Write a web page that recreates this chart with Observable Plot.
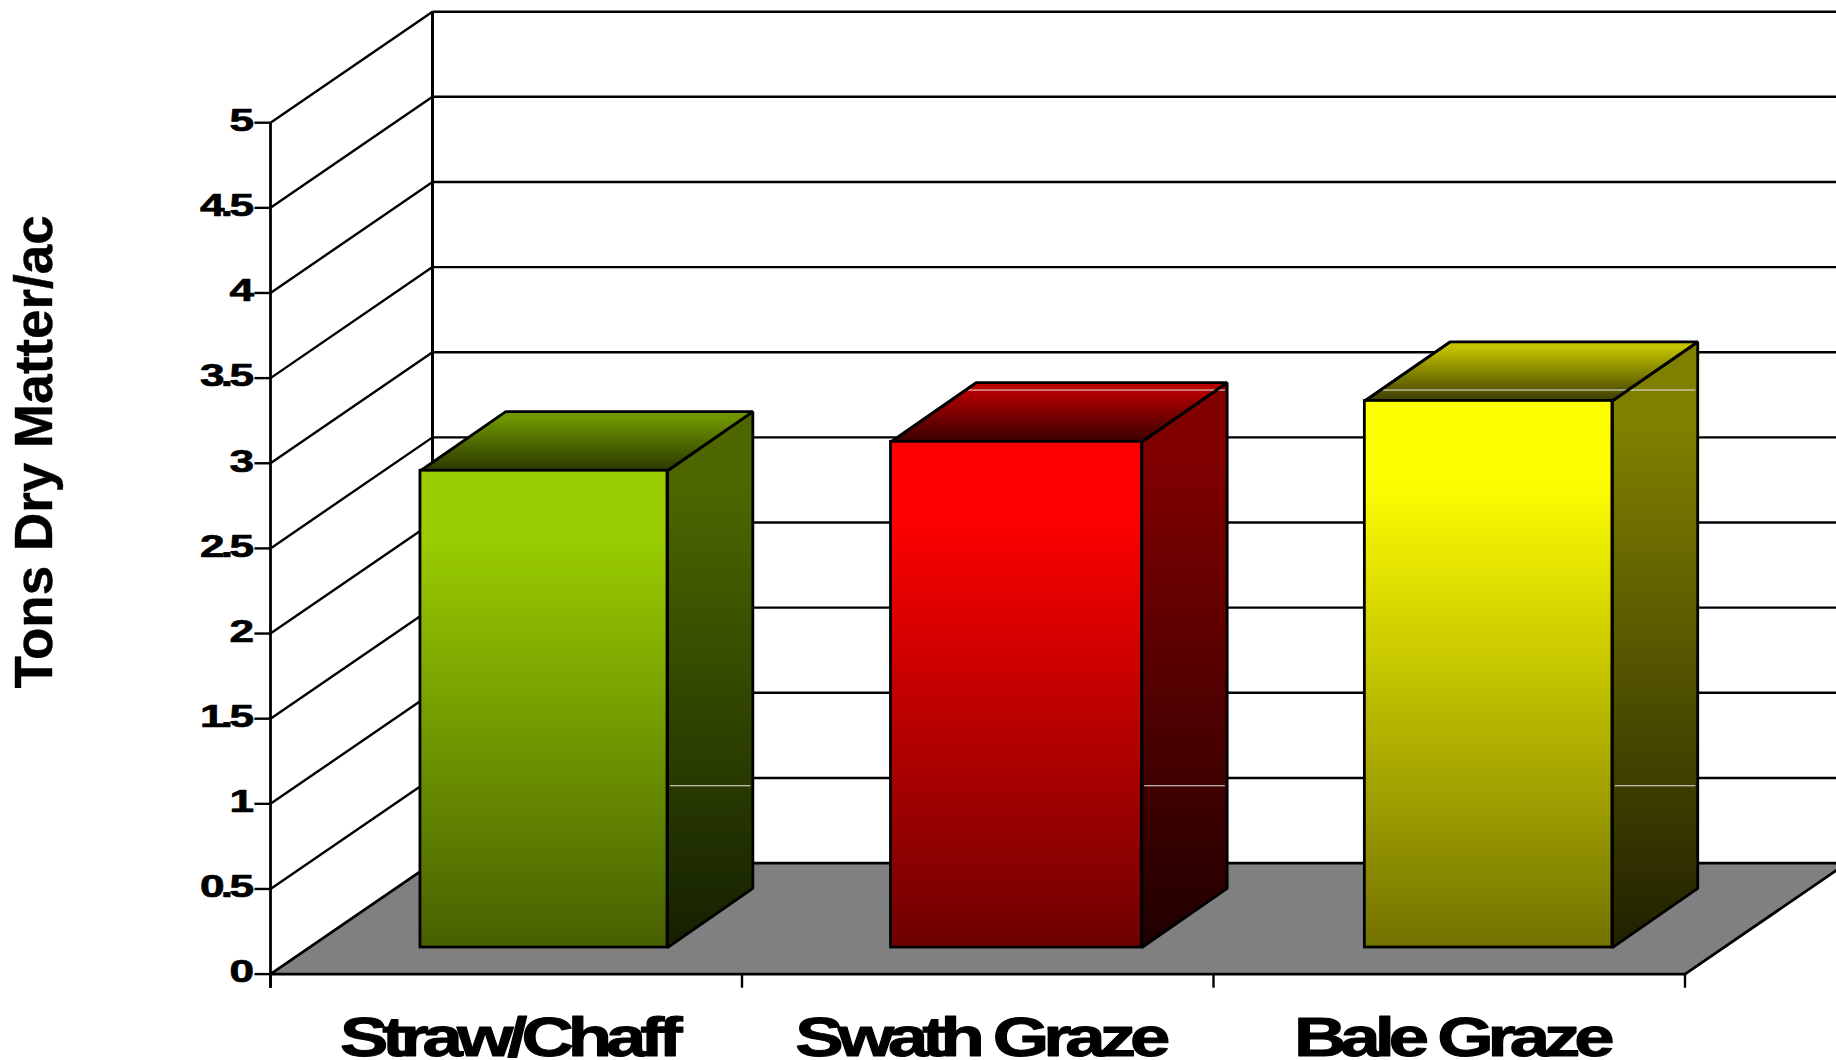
<!DOCTYPE html>
<html>
<head>
<meta charset="utf-8">
<script src="https://cdn.jsdelivr.net/npm/d3@7"></script>
<script src="https://cdn.jsdelivr.net/npm/@observablehq/plot@0.6"></script>
<style>
html,body{margin:0;padding:0;background:#fff;overflow:hidden}
svg{display:block}
g.cat text{letter-spacing:-4.6px}
g.num text{letter-spacing:-2.6px}
</style>
</head>
<body>
<div id="chart"></div>
<script>
const categories = ["Straw/Chaff", "Swath Graze", "Bale Graze"];
const values = [2.80, 2.97, 3.21];
const yTicks = [0, 0.5, 1, 1.5, 2, 2.5, 3, 3.5, 4, 4.5, 5];
const yTitle = "Tons Dry Matter/ac";
const faceColors = [
  {front: ["#99cc00", "#476000"], side: ["#4d6600", "#142000"], top: ["#6f9600", "#2a3800"]},
  {front: ["#ff0000", "#6e0000"], side: ["#800000", "#200000"], top: ["#bb0000", "#380000"]},
  {front: ["#ffff00", "#727200"], side: ["#808000", "#202000"], top: ["#c2c200", "#3c3c00"]}
];
const plateau = {front: 0.14, side: 0.14, top: 0.1};

// projection of the pseudo-3D box, in scale units
const wallX = 0.3436, wallY = 0.652;     // depth of the chart floor
const barX = 0.181, barY = 0.347;        // depth of a bar
const barStarts = [0.318, 1.316, 2.321]; // layout of the bars along the category axis
const barEnds = [0.842, 1.848, 2.846];
const barLift = 0.156;                   // bar base above the floor front edge
const nCat = categories.length;
const ink = {stroke: "#000", strokeWidth: 2.8, strokeLinejoin: "miter"};
const gridWidth = 2.4, axisWidth = 2.8, wallWidth = 3;

function gradients() {
  const defs = d3.create("svg:defs");
  faceColors.forEach((c, i) => {
    for (const face of ["front", "side", "top"]) {
      const g = defs.append("linearGradient").attr("id", `${face}${i}`)
        .attr("x1", 0).attr("y1", 0).attr("x2", 0).attr("y2", 1);
      g.append("stop").attr("offset", 0).attr("stop-color", c[face][0]);
      g.append("stop").attr("offset", plateau[face]).attr("stop-color", c[face][0]);
      g.append("stop").attr("offset", 1).attr("stop-color", c[face][1]);
    }
  });
  return defs.node();
}

const poly = (pts, fill, extra = {}) =>
  Plot.line(pts, {x: "x", y: "y", fill, curve: "linear-closed", ...ink, ...extra});

const bars = categories.flatMap((c, i) => {
  const l = barStarts[i], r = barEnds[i], b = barLift, t = barLift + values[i];
  return [
    poly([{x: r, y: b}, {x: r + barX, y: b + barY}, {x: r + barX, y: t + barY}, {x: r, y: t}], `url(#side${i})`),
    poly([{x: l, y: t}, {x: l + barX, y: t + barY}, {x: r + barX, y: t + barY}, {x: r, y: t}], `url(#top${i})`),
    Plot.rect([{l, r, b, t}], {x1: "l", x2: "r", y1: "b", y2: "t", fill: `url(#front${i})`, ...ink})
  ];
});

// thin pale seams that cross the bar faces
const seamLow = 1.106, seamHigh = 3.43;
const seams = categories.flatMap((c, i) => {
  const r = barEnds[i], t = barLift + values[i];
  const out = [{x1: r + 0.005, x2: r + barX - 0.005, y: seamLow}];
  if (t + barY > seamHigh) {
    const startX = barStarts[i] + Math.max(0, seamHigh - t) * barX / barY;
    out.push({x1: startX + 0.005, x2: r + barX - 0.005, y: seamHigh});
  }
  return out;
});
const seamDiagonals = categories.flatMap((c, i) => {
  const r = barEnds[i], l = barStarts[i], t = barLift + values[i];
  return t + barY > seamHigh && t < seamHigh
    ? [{x1: r, y1: t, x2: r + barX, y2: t + barY}, {x1: l, y1: t, x2: l + barX, y2: t + barY}]
    : [];
});

const plot = Plot.plot({
  width: 1836,
  height: 1060,
  margin: 0,
  style: {background: "#fff", overflow: "hidden"},
  x: {type: "linear", domain: [0, nCat], range: [270, 1684.5], axis: null},
  y: {type: "linear", domain: [0, 5], range: [973.6, 122.2], axis: null},
  marks: [
    gradients,
    // floor
    poly([{x: 0, y: 0}, {x: wallX, y: wallY}, {x: nCat + wallX, y: wallY}, {x: nCat, y: 0}], "#808080"),
    // grid on the wall and on the side
    Plot.link(yTicks.slice(1), {x1: wallX, x2: nCat + wallX, y1: d => d + wallY, y2: d => d + wallY, stroke: "#000", strokeWidth: gridWidth}),
    Plot.link(yTicks.slice(1), {x1: 0, x2: wallX, y1: d => d, y2: d => d + wallY, stroke: "#000", strokeWidth: gridWidth}),
    Plot.ruleX([wallX], {y1: wallY, y2: 5 + wallY, stroke: "#000", strokeWidth: wallWidth}),
    // axes
    Plot.ruleX([0], {y1: -0.083, y2: 5, stroke: "#000", strokeWidth: axisWidth}),
    Plot.ruleY(yTicks, {x1: -0.033, x2: 0, stroke: "#000", strokeWidth: gridWidth}),
    Plot.ruleX(d3.range(nCat + 1), {y1: -0.083, y2: 0, stroke: "#000", strokeWidth: gridWidth}),
    // bars
    ...bars,
    Plot.link(seams, {x1: "x1", x2: "x2", y1: "y", y2: "y", stroke: "#e8e8e8", strokeWidth: 1}),
    Plot.link(seamDiagonals, {x1: "x1", x2: "x2", y1: "y1", y2: "y2", ...ink}),
    // text
    Plot.text(yTicks, {x: 0, y: d => d, text: d => String(d), textAnchor: "end", dx: -20, dy: -2,
      fontSize: 32, fontWeight: "bold", fontFamily: "Liberation Sans", fill: "#000", stroke: "#000", strokeWidth: 0.7, className: "num"}),
    Plot.text(categories, {x: (d, i) => i + 0.5, y: 0, text: d => d, textAnchor: "middle", dx: 2, dy: 64,
      fontSize: 55, fontWeight: "bold", fontFamily: "Liberation Sans", fill: "#000", stroke: "#000", strokeWidth: 1, className: "cat"}),
    Plot.text([yTitle], {x: 0, y: 3.067, text: d => d, rotate: -90, textAnchor: "middle", dx: -235,
      fontSize: 53, fontWeight: "bold", fontFamily: "Liberation Sans", fill: "#000", stroke: "#000", strokeWidth: 0.4})
  ]
});

d3.select(plot).selectAll("g.num text").each(function () {
  this.setAttribute("transform", `${this.getAttribute("transform") || ""} scale(1.38,1)`);
});
d3.select(plot).selectAll("g.cat text").each(function () {
  this.setAttribute("transform", `${this.getAttribute("transform") || ""} scale(1.32,1)`);
});
document.getElementById("chart").appendChild(plot);
</script>
</body>
</html>
